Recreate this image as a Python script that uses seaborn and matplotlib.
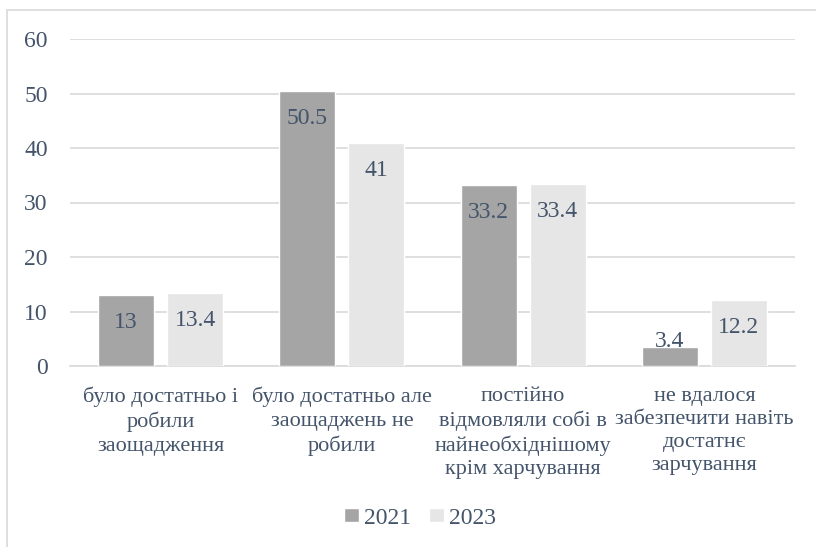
import numpy as np
import pandas as pd
import matplotlib.pyplot as plt
from matplotlib.patches import Rectangle
import seaborn as sns

# ================= DATA =================
categories = [
    "було достатньо і\nробили\nзаощадження",
    "було достатньо але\nзаощаджень не\nробили",
    "постійно\nвідмовляли собі в\nнайнеобхіднішому\nкрім харчування",
    "не вдалося\nзабезпечити навіть\nдостатнє\nзарчування",
]
years = ["2021", "2023"]
values_2021 = [13, 50.5, 33.2, 3.4]
values_2023 = [13.4, 41, 33.4, 12.2]
y_ticks = [0, 10, 20, 30, 40, 50, 60]

df = pd.DataFrame({
    "category": categories * 2,
    "year": [years[0]] * 4 + [years[1]] * 4,
    "value": values_2021 + values_2023,
})

TEXT = "#44546A"
GRID = "#D9D9D9"
palette = {"2021": "#A5A5A5", "2023": "#E7E6E6"}

sns.set_theme(style="white")
plt.rcParams["font.family"] = ["Liberation Serif", "DejaVu Serif"]

fig = plt.figure(figsize=(8.16, 5.47), dpi=100)
ax = fig.add_axes([70 / 816, 1 - 366 / 547, 725 / 816, 327 / 547])

sns.barplot(data=df, x="category", y="value", hue="year", palette=palette,
            width=0.762, gap=0.19, ax=ax, legend=True, zorder=3)

ax.set_ylim(0, 60)
ax.set_yticks(y_ticks)
ax.set_xlim(-0.5, 3.5)
ax.grid(axis="y", color=GRID, linewidth=1.2, zorder=0)
ax.grid(axis="x", visible=False)
for s in ["top", "right", "left"]:
    ax.spines[s].set_visible(False)
ax.spines["bottom"].set_color(GRID)
ax.spines["bottom"].set_linewidth(1.2)
ax.tick_params(axis="both", length=0, colors=TEXT, labelsize=17)
ax.tick_params(axis="y", pad=16)
ax.tick_params(axis="x", pad=15)
for lbl in ax.get_xticklabels():
    lbl.set_linespacing(1.3)
    lbl.set_fontsize(16)
ax.set_xlabel("")
ax.set_ylabel("")

# data labels
for cont in ax.containers:
    for bar in cont:
        h = bar.get_height()
        x = bar.get_x() + bar.get_width() / 2
        off = -20 if h > 8 else 4
        ax.annotate(f"{h:g}", (x, h), xytext=(0, off), textcoords="offset points",
                    ha="center", va="center", fontsize=17, color=TEXT, zorder=4)

leg = ax.legend(loc="center", bbox_to_anchor=(350 / 725, -152 / 327), ncol=2,
                frameon=False, fontsize=17, handlelength=0.65, handleheight=0.5,
                handletextpad=0.2, columnspacing=0.75)
for t in leg.get_texts():
    t.set_color(TEXT)

fig.patches.append(Rectangle((7 / 816, -0.05), 1.1, 1 - 10 / 547 + 0.05,
                             transform=fig.transFigure, fill=False,
                             edgecolor="#D9D9D9", linewidth=1.2))

plt.savefig("out.png", dpi=100)
